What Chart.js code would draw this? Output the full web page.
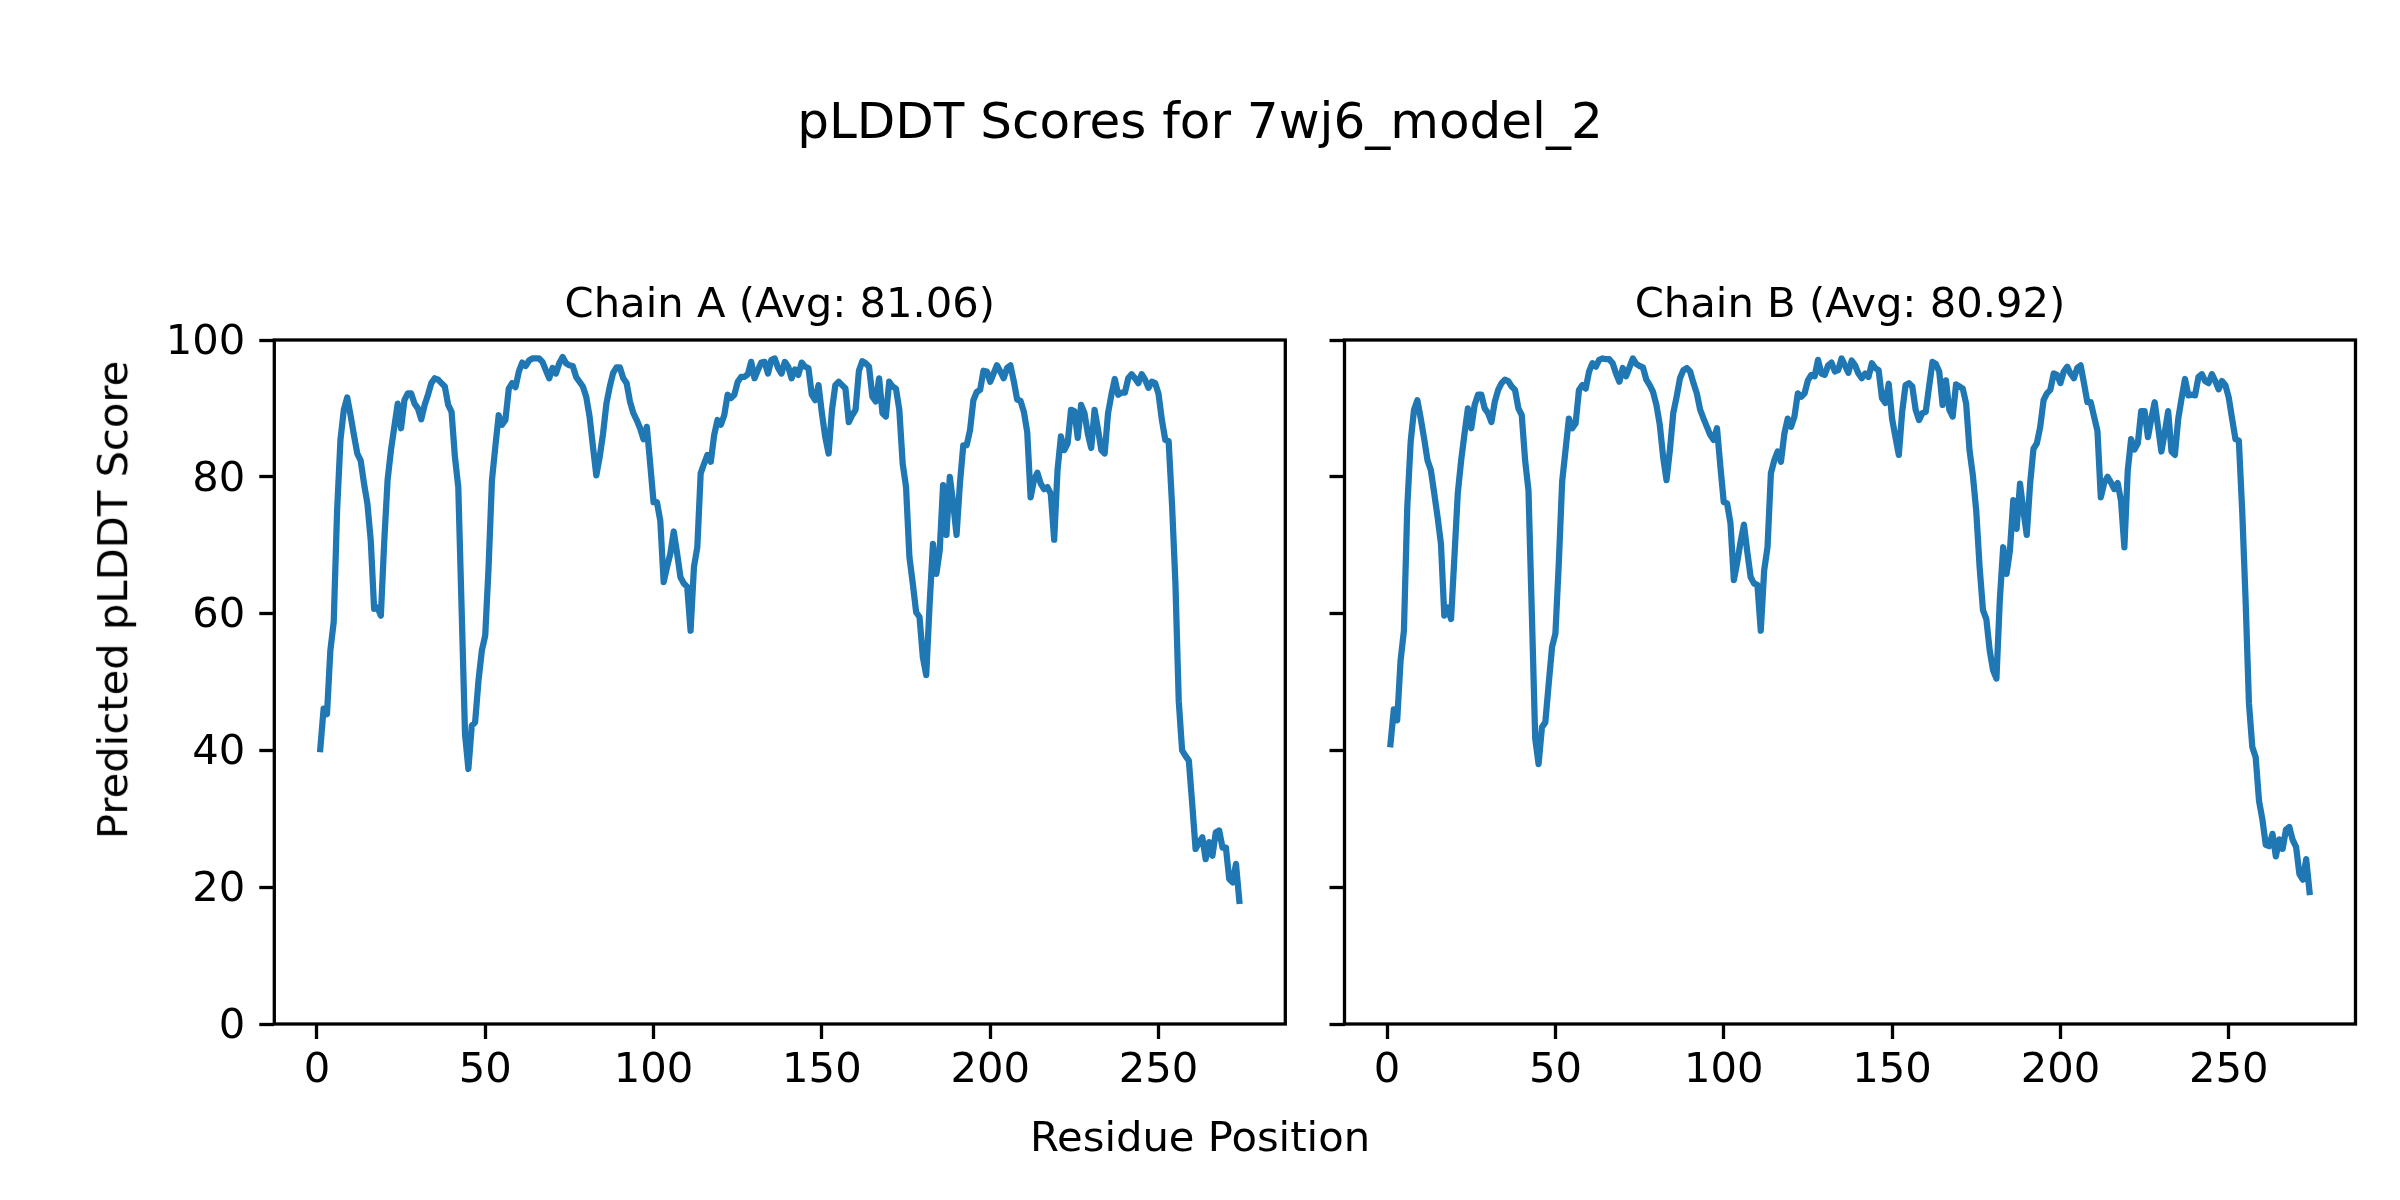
<!DOCTYPE html>
<html>
<head>
<meta charset="utf-8">
<script src="https://cdn.jsdelivr.net/npm/chart.js@4.4.1/dist/chart.umd.min.js"></script>
<style>
  html, body { margin: 0; padding: 0; background: #fff; }
  #page { position: relative; width: 2400px; height: 1200px; overflow: hidden; font-family: "DejaVu Sans", sans-serif; color: #000; }
  canvas { position: absolute; top: 0; }
  .label { position: absolute; white-space: nowrap; text-align: center; }
</style>
</head>
<body>
<div id="page">
  <div class="label" id="suptitle" style="left:0; width:2400px; top:96px; font-size:50px; line-height:50px;">pLDDT Scores for 7wj6_model_2</div>
  <canvas id="chainA" width="1300" height="1200" style="left:0; width:1300px; height:1200px;"></canvas>
  <canvas id="chainB" width="1100" height="1200" style="left:1300px; width:1100px; height:1200px;"></canvas>
  <div class="label" id="xlabel" style="left:0; width:2400px; top:1116px; font-size:41.7px; line-height:41.7px;">Residue Position</div>
  <div class="label" id="ylabel" style="left:-187.5px; width:600px; top:579px; font-size:41.7px; line-height:41.7px; transform:rotate(-90deg);">Predicted pLDDT Score</div>
</div>
<script>
// pLDDT per residue (1..274)
const scoresA = [
  40.2, 46.1, 45.3, 54.6, 58.8, 75.0, 85.4, 89.8, 91.6, 89.0,
  86.1, 83.4, 82.4, 79.0, 76.1, 70.7, 60.7, 60.9, 59.7, 70.5,
  79.5, 83.9, 87.3, 90.7, 87.1, 91.2, 92.2, 92.2, 90.7, 90.0,
  88.4, 90.5, 92.0, 93.7, 94.4, 94.2, 93.7, 93.2, 90.5, 89.5,
  82.9, 78.5, 60.5, 42.4, 37.3, 43.6, 44.1, 50.2, 54.6, 56.8,
  66.8, 79.5, 84.4, 89.0, 87.6, 88.3, 92.9, 93.7, 93.1, 95.4,
  96.7, 96.2, 97.0, 97.3, 97.3, 97.3, 96.8, 95.6, 94.4, 95.9,
  95.1, 96.6, 97.5, 96.6, 96.3, 96.2, 94.6, 93.9, 93.2, 91.7,
  88.8, 84.4, 80.2, 82.9, 86.3, 90.7, 93.2, 95.2, 96.0, 96.0,
  94.4, 93.7, 91.0, 89.3, 88.3, 87.1, 85.5, 87.3, 81.9, 76.3,
  76.3, 73.6, 64.6, 66.8, 68.8, 72.0, 68.8, 65.3, 64.4, 63.9,
  57.5, 66.8, 69.7, 80.5, 81.9, 83.2, 82.2, 86.1, 88.3, 87.6,
  89.0, 92.0, 91.5, 92.0, 93.9, 94.6, 94.6, 95.0, 96.8, 94.4,
  95.6, 96.7, 96.8, 95.1, 97.1, 97.3, 95.9, 95.1, 96.8, 96.1,
  94.4, 95.7, 94.9, 96.7, 96.1, 95.9, 92.0, 91.2, 93.4, 89.3,
  85.8, 83.4, 89.8, 93.4, 93.9, 93.4, 92.9, 88.0, 89.0, 89.8,
  95.5, 96.9, 96.6, 96.1, 91.7, 91.0, 94.4, 89.3, 88.8, 93.9,
  93.2, 92.9, 89.8, 81.9, 78.5, 68.3, 64.4, 60.2, 59.5, 53.6,
  51.0, 61.4, 70.2, 65.8, 69.2, 78.8, 71.5, 80.0, 76.1, 71.5,
  79.0, 84.6, 84.6, 86.8, 91.2, 92.4, 92.7, 95.5, 95.4, 93.9,
  95.1, 96.3, 95.4, 94.4, 95.9, 96.3, 94.0, 91.3, 91.1, 89.5,
  86.5, 77.0, 79.5, 80.6, 79.0, 78.2, 78.5, 77.5, 70.8, 81.0,
  85.9, 83.9, 84.9, 89.8, 89.6, 85.7, 90.5, 89.3, 86.3, 84.2,
  89.8, 87.0, 83.9, 83.4, 89.3, 92.0, 94.3, 92.0, 92.3, 92.3,
  94.4, 95.0, 94.4, 93.7, 95.0, 94.2, 93.0, 93.9, 93.7, 92.1,
  88.3, 85.4, 85.2, 76.0, 64.6, 47.2, 40.0, 39.2, 38.5, 32.2,
  25.6, 26.5, 27.3, 24.1, 26.6, 24.6, 28.0, 28.3, 25.8, 25.8,
  21.2, 20.7, 23.4, 18.0
];

const scoresB = [
  40.9, 46.0, 44.4, 53.1, 57.5, 75.6, 85.1, 89.8, 91.2, 88.5,
  85.6, 82.4, 81.0, 77.6, 74.1, 70.2, 59.7, 60.9, 59.2, 68.3,
  77.6, 82.4, 86.3, 90.0, 87.1, 90.5, 92.0, 92.0, 90.0, 89.3,
  88.0, 91.0, 92.7, 93.7, 94.2, 94.0, 93.2, 92.7, 90.0, 89.0,
  82.4, 78.0, 60.0, 41.7, 38.0, 43.4, 44.1, 49.7, 55.1, 57.1,
  67.3, 79.3, 83.9, 88.5, 87.1, 87.8, 92.7, 93.4, 92.9, 95.4,
  96.6, 96.1, 97.1, 97.3, 97.2, 97.2, 96.6, 95.1, 93.9, 95.9,
  94.7, 96.0, 97.3, 96.5, 96.2, 96.0, 94.2, 93.4, 92.4, 90.5,
  87.6, 82.9, 79.5, 83.9, 89.3, 91.7, 94.4, 95.6, 95.9, 95.4,
  93.7, 92.2, 89.8, 88.5, 87.3, 86.1, 85.4, 87.1, 81.5, 76.3,
  76.1, 73.2, 64.9, 67.5, 70.5, 73.0, 69.0, 65.3, 64.4, 64.2,
  57.5, 66.3, 69.7, 80.5, 82.4, 83.7, 82.2, 86.3, 88.5, 87.3,
  88.8, 92.2, 91.7, 92.2, 94.1, 94.9, 94.7, 97.1, 95.1, 94.9,
  96.3, 96.7, 95.4, 95.6, 97.3, 96.3, 95.2, 97.0, 96.3, 95.1,
  94.4, 95.1, 94.6, 96.6, 95.9, 95.6, 91.5, 90.8, 93.6, 88.5,
  85.8, 83.2, 89.5, 93.4, 93.7, 93.2, 89.8, 88.3, 89.3, 89.5,
  93.2, 96.8, 96.5, 95.4, 90.5, 94.1, 89.8, 88.8, 93.5, 93.2,
  92.9, 90.7, 83.9, 80.2, 75.0, 66.8, 60.5, 59.2, 54.6, 51.7,
  50.5, 62.0, 69.7, 65.8, 69.2, 76.6, 72.4, 79.0, 75.1, 71.5,
  79.0, 84.1, 84.9, 87.3, 91.2, 92.2, 92.7, 95.1, 94.9, 93.7,
  95.4, 96.1, 95.1, 94.4, 95.9, 96.3, 93.7, 90.9, 90.9, 88.8,
  86.7, 77.0, 79.1, 80.0, 79.2, 78.2, 79.1, 76.5, 69.7, 80.9,
  85.5, 84.0, 84.9, 89.6, 89.6, 85.8, 88.5, 90.9, 87.3, 83.7,
  86.5, 89.6, 83.7, 83.2, 88.5, 91.5, 94.3, 91.9, 92.0, 91.9,
  94.6, 95.0, 94.0, 93.7, 95.0, 94.0, 92.8, 94.0, 93.4, 91.6,
  88.5, 85.5, 85.3, 75.0, 62.0, 46.9, 40.5, 39.0, 32.6, 29.9,
  26.2, 26.0, 27.8, 24.5, 27.0, 25.6, 28.4, 28.8, 26.9, 25.9,
  21.9, 21.1, 24.1, 19.3
];

const chainTitles = ["Chain A (Avg: 81.06)", "Chain B (Avg: 80.92)"];
const xTicks = [0, 50, 100, 150, 200, 250];
const yTicks = [0, 20, 40, 60, 80, 100];

// residue numbering starts at 1
const residues = scoresA.map((_, i) => i + 1);

// matplotlib-style 5% margins on x
const span = residues[residues.length - 1] - residues[0];
const xMin = residues[0] - 0.05 * span;
const xMax = residues[residues.length - 1] + 0.05 * span;

const FONT = "DejaVu Sans";
const LINE_BLUE = "#1f77b4";

// box around the plot area (all four spines)
const framePlugin = {
  id: "frame",
  afterDraw(chart) {
    const { ctx, chartArea: a } = chart;
    ctx.save();
    ctx.strokeStyle = "#000";
    ctx.lineWidth = 3.3;
    ctx.strokeRect(a.left, a.top, a.right - a.left, a.bottom - a.top);
    ctx.restore();
  }
};

// panel title centred over the plot area, like ax.set_title
const panelTitlePlugin = {
  id: "panelTitle",
  afterDraw(chart, args, opts) {
    const { ctx, chartArea: a } = chart;
    ctx.save();
    ctx.fillStyle = "#000";
    ctx.font = `41.7px "${FONT}"`;
    ctx.textAlign = "center";
    ctx.textBaseline = "alphabetic";
    ctx.fillText(opts.text, (a.left + a.right) / 2, a.top - 23);
    ctx.restore();
  }
};

function makeChart(canvasId, title, scores, showYLabels, yAxisWidth, padRight) {
  const tickFont = { family: FONT, size: 41.7 };
  const gridOpts = {
    drawOnChartArea: false,
    drawTicks: true,
    tickLength: 15,
    tickWidth: 3.3,
    tickColor: "#000"
  };

  return new Chart(document.getElementById(canvasId), {
    type: "line",
    data: {
      datasets: [{
        data: residues.map((r, i) => ({ x: r, y: scores[i] })),
        borderColor: LINE_BLUE,
        borderWidth: 6.25,
        borderJoinStyle: "round",
        borderCapStyle: "square",
        pointRadius: 0,
        tension: 0,
        fill: false
      }]
    },
    options: {
      responsive: false,
      animation: false,
      devicePixelRatio: 1,
      layout: { padding: { top: 340, right: padRight, bottom: 0, left: 0 } },
      plugins: {
        legend: { display: false },
        tooltip: { enabled: false },
        title: { display: false },
        panelTitle: { text: title }
      },
      scales: {
        x: {
          type: "linear",
          min: xMin,
          max: xMax,
          afterBuildTicks: s => { s.ticks = xTicks.map(v => ({ value: v })); },
          afterFit: s => { s.height = 176; },
          grid: gridOpts,
          border: { display: false },
          ticks: { font: tickFont, color: "#000", padding: 7.3, maxRotation: 0, autoSkip: false }
        },
        y: {
          min: 0,
          max: 100,
          afterBuildTicks: s => { s.ticks = yTicks.map(v => ({ value: v })); },
          afterFit: s => { s.width = yAxisWidth; },
          grid: gridOpts,
          border: { display: false },
          ticks: {
            font: tickFont,
            color: "#000",
            padding: 14,
            labelOffset: 3,
            autoSkip: false,
            callback: v => showYLabels ? String(v) : ""
          }
        }
      }
    },
    plugins: [framePlugin, panelTitlePlugin]
  });
}

makeChart("chainA", chainTitles[0], scoresA, true, 274.3, 1300 - 1285.3);
makeChart("chainB", chainTitles[1], scoresB, false, 44.5, 1100 - 1055.5);
</script>
</body>
</html>
